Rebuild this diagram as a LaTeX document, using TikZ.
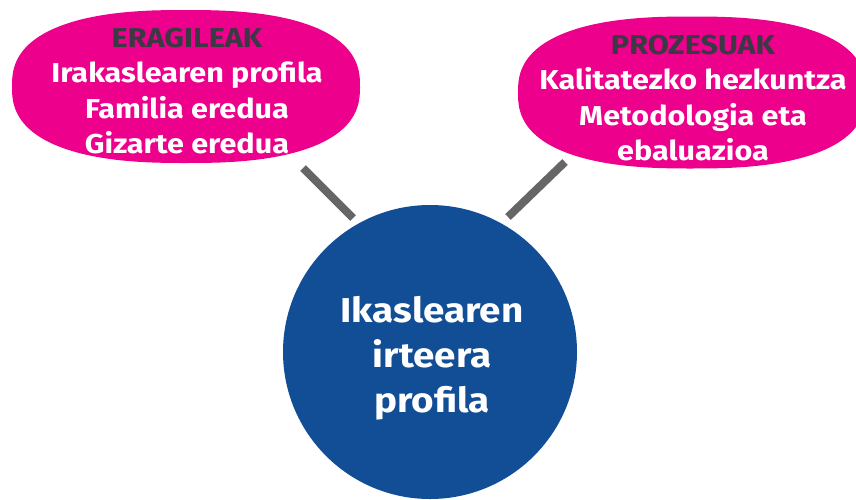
\documentclass[tikz,border=0pt]{standalone}
\usepackage{fontspec}
\setmainfont{Fira Sans}
\newfontfamily\widefont{Fira Sans}[FakeStretch=1.12]
\usetikzlibrary{shapes.geometric}
\definecolor{pinkc}{HTML}{EC008C}
\definecolor{bluec}{HTML}{124E96}
\definecolor{titlec}{HTML}{3B3A44}
\definecolor{linec}{HTML}{666666}
\begin{document}
\begin{tikzpicture}[x=1pt,y=-1pt,
  bubble/.style={ellipse, minimum width=348pt, minimum height=152pt, inner sep=0pt},
  bubtext/.style={align=center, text=white, font=\widefont\fontsize{27.3}{35.5}\selectfont\bfseries},
  hub/.style={circle, fill=bluec, minimum size=294pt, inner sep=0pt},
  hubtext/.style={align=center, text=white, font=\widefont\fontsize{34.5}{45}\selectfont\bfseries},
  link/.style={draw=linec, line width=8pt}]
\useasboundingbox (0,0) rectangle (856,499);
\newcommand\superell[4]{%
  \fill[pinkc] plot[domain=0.5:360.5, samples=181]
    ({#1 + #3*sign(cos(\x))*pow(abs(cos(\x)),0.8)},
     {#2 + #4*sign(sin(\x))*pow(abs(sin(\x)),0.8)}) -- cycle;}
\begin{scope}
\clip (0,0) rectangle (856,499);
\node[bubble] (L) at (186,86.5) {};
\node[bubble] (R) at (692,92.5) {};
\superell{186}{86.5}{174}{76.5}
\superell{692}{92.5}{174}{76}
\node[hub] (C) at (430,352) {};
\end{scope}
\node[bubtext] (Lt) at (187,91) {\textcolor{titlec}{ERAGILEAK}\\Irakaslearen profila\\Familia eredua\\Gizarte eredua};
\node[bubtext] (Rt) at (693,98) {\textcolor{titlec}{PROZESUAK}\\Kalitatezko hezkuntza\\Metodologia eta\\ebaluazioa};
\node[hubtext] (Ct) at (432,358) {Ikaslearen\\irteera\\profila};
\coordinate (l1) at (303,168); \coordinate (l2) at (353,218);
\coordinate (r1) at (565,162); \coordinate (r2) at (508,217);
\draw[link] (l1) -- (l2);
\draw[link] (r1) -- (r2);
\end{tikzpicture}
\end{document}
